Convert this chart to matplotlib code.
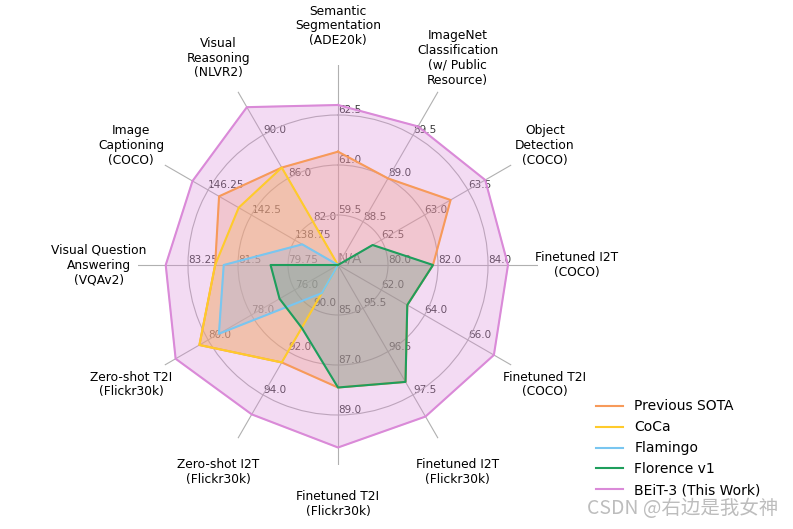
import numpy as np
import matplotlib
matplotlib.use("Agg")
import matplotlib.pyplot as plt

categories = ['Semantic\nSegmentation\n(ADE20k)',
              'ImageNet\nClassification\n(w/ Public\nResource)',
              'Object\nDetection\n(COCO)',
              'Finetuned I2T\n(COCO)',
              'Finetuned T2I\n(COCO)',
              'Finetuned I2T\n(Flickr30k)',
              'Finetuned T2I\n(Flickr30k)',
              'Zero-shot I2T\n(Flickr30k)',
              'Zero-shot T2I\n(Flickr30k)',
              'Visual Question\nAnswering\n(VQAv2)',
              'Image\nCaptioning\n(COCO)',
              'Visual\nReasoning\n(NLVR2)']

# tick labels on rings 1, 2, 3 for each axis
ring1 = ['59.5', '88.5', '62.5', '80.0', '62.0', '95.5', '85.0', '90.0', '76.0', '79.75', '138.75', '82.0']
ring2 = ['61.0', '89.0', '63.0', '82.0', '64.0', '96.5', '87.0', '92.0', '78.0', '81.5', '142.5', '86.0']
ring3 = ['62.5', '89.5', '63.5', '84.0', '66.0', '97.5', '89.0', '94.0', '80.0', '83.25', '146.25', '90.0']

# None = N/A (drawn at the centre)
prev_sota = [61.4, 89.0, 63.3, 81.8, 63.2, 97.2, 87.9, 92.5, 80.4, 82.3, 145.3, 87.0]
coca = [None, None, None, None, None, None, None, 92.5, 80.4, 82.3, 143.6, 87.0]
flamingo = [None, None, None, None, None, None, None, 89.3, 79.5, 82.0, 138.1, None]
florence = [None, None, 62.4, 81.8, 63.2, 97.2, 87.9, 90.9, 76.7, 80.36, None, None]
beit3 = [62.8, 89.6, 63.7, 84.8, 67.2, 98.0, 90.3, 94.9, 81.5, 84.03, 147.6, 92.58]

series = [('Previous SOTA', prev_sota, '#F79A5A'),
          ('CoCa', coca, '#FFCB2B'),
          ('Flamingo', flamingo, '#79C6F0'),
          ('Florence v1', florence, '#1E9E5C'),
          ('BEiT-3 (This Work)', beit3, '#DA8AD8')]


def to_radius(vals):
    out = []
    for v, a, b in zip(vals, ring1, ring2):
        if v is None:
            out.append(0.0)
        else:
            a, b = float(a), float(b)
            out.append(1 + (v - a) / (b - a))
    return np.array(out)


n = len(categories)
angles = np.arange(n) * 2 * np.pi / n

fig = plt.figure(figsize=(7.93, 5.29), dpi=100)
ax = fig.add_axes([138 / 793, 64 / 529, 400 / 793, 400 / 529], polar=True)
ax.set_theta_offset(np.pi / 2)
ax.set_theta_direction(-1)
ax.set_ylim(0, 4)
ax.set_rgrids([1, 2, 3], labels=[])
ax.set_thetagrids(np.degrees(angles), labels=[])
ax.grid(True, color='#b0b0b0', linewidth=0.8)
ax.spines['polar'].set_visible(False)

for i in range(n):
    for r, labs in zip([1, 2, 3], [ring1, ring2, ring3]):
        ax.text(angles[i], r, labs[i], fontsize=7.5, color='#3a3a3a',
                ha='left', va='bottom', zorder=1)

ax.text(0, 0, 'N/A', fontsize=10, color='#777777', ha='left', va='bottom', zorder=1)

for i in range(n):
    ax.text(angles[i], 4.78, categories[i], fontsize=8.8, ha='center', va='center',
            linespacing=1.18, clip_on=False)

for name, vals, col in series:
    r = to_radius(vals)
    th = np.append(angles, angles[0])
    rr = np.append(r, r[0])
    ax.plot(th, rr, color=col, linewidth=1.5, label=name, zorder=3)
    ax.fill(th, rr, color=col, alpha=0.3, zorder=2)

ax.legend(loc='upper left', bbox_to_anchor=(583 / 793, 1 - 387 / 529),
          bbox_transform=fig.transFigure, frameon=False, fontsize=10,
          handlelength=2.0, labelspacing=0.5)

fig.text(0.982, 0.038, 'CSDN @右边是我女神', fontsize=14, color='#bdbdbd',
         ha='right', va='center', family=['Noto Sans CJK SC', 'DejaVu Sans'])

fig.savefig('out.png', dpi=100)
